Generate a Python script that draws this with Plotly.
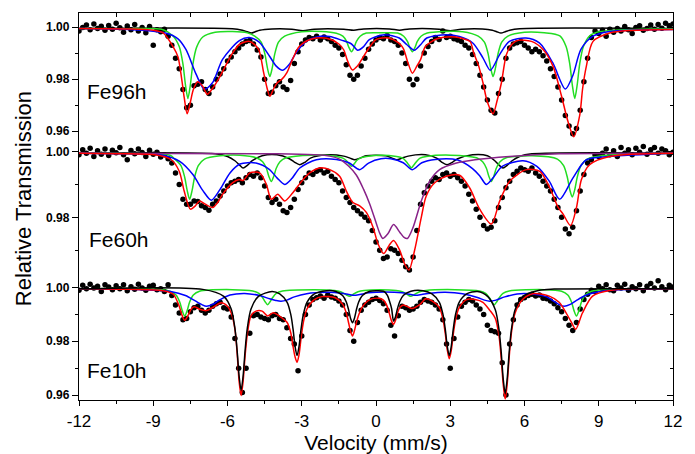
import plotly.graph_objects as go

# ---------------- data ----------------
# channel velocities in mm/s (evenly spaced channels)
velocity = [round(-12 + 0.15 * i, 2) for i in range(161)]

fe96_data = [
    0.9985, 0.9998, 1.0008, 0.9990, 1.0012, 0.9995, 1.0003, 0.9988, 1.0006, 0.9992,
    1.0015, 0.9997, 0.9980, 1.0004, 0.9990, 1.0010, 0.9985, 0.9998, 0.9978, 1.0002,
    0.9930, 0.9990, 0.9982, 0.9992, 0.9965, 0.9930, 0.9880, 0.9840, 0.9760, 0.9690,
    0.9700, 0.9775, 0.9780, 0.9790, 0.9760, 0.9745, 0.9770, 0.9800, 0.9820, 0.9840,
    0.9870, 0.9885, 0.9905, 0.9920, 0.9935, 0.9945, 0.9948, 0.9935, 0.9912, 0.9885,
    0.9800, 0.9745, 0.9750, 0.9775, 0.9790, 0.9770, 0.9760, 0.9795, 0.9860, 0.9905,
    0.9935, 0.9950, 0.9960, 0.9955, 0.9965, 0.9950, 0.9962, 0.9955, 0.9945, 0.9930,
    0.9920, 0.9895, 0.9855, 0.9815, 0.9800, 0.9815, 0.9850, 0.9880, 0.9915, 0.9935,
    0.9950, 0.9960, 0.9955, 0.9968, 0.9950, 0.9945, 0.9930, 0.9900, 0.9860, 0.9800,
    0.9778, 0.9800, 0.9850, 0.9900, 0.9925, 0.9945, 0.9960, 0.9952, 0.9985, 0.9960,
    0.9965, 0.9955, 0.9950, 0.9945, 0.9930, 0.9920, 0.9895, 0.9860, 0.9815, 0.9770,
    0.9720, 0.9680, 0.9670, 0.9745, 0.9800, 0.9880, 0.9920, 0.9935, 0.9940, 0.9945,
    0.9930, 0.9920, 0.9905, 0.9915, 0.9905, 0.9890, 0.9870, 0.9840, 0.9810, 0.9770,
    0.9720, 0.9660, 0.9620, 0.9590, 0.9610, 0.9680, 0.9790, 0.9880, 0.9960, 0.9985,
    0.9975, 0.9988, 0.9965, 0.9992, 0.9980, 0.9995, 0.9985, 1.0002, 0.9990, 0.9975,
    0.9998, 1.0005, 0.9988, 0.9995, 1.0008, 0.9992, 1.0010, 0.9996, 1.0015, 1.0005,
    1.0012,
]

fe60_data = [
    0.9990, 1.0005, 0.9995, 1.0010, 0.9985, 1.0002, 0.9992, 1.0008, 0.9988, 1.0004,
    0.9996, 1.0012, 0.9990, 0.9975, 1.0003, 0.9993, 1.0008, 0.9997, 0.9985, 1.0004,
    0.9992, 0.9998, 0.9983, 0.9990, 0.9978, 0.9965, 0.9935, 0.9900, 0.9855, 0.9840,
    0.9840, 0.9850, 0.9848, 0.9835, 0.9830, 0.9822, 0.9840, 0.9850, 0.9865, 0.9880,
    0.9895, 0.9905, 0.9910, 0.9915, 0.9905, 0.9920, 0.9930, 0.9925, 0.9935, 0.9920,
    0.9895, 0.9860, 0.9845, 0.9855, 0.9840, 0.9820, 0.9815, 0.9830, 0.9855, 0.9885,
    0.9905, 0.9920, 0.9935, 0.9930, 0.9940, 0.9945, 0.9935, 0.9940, 0.9925, 0.9915,
    0.9905, 0.9880, 0.9860, 0.9845, 0.9830, 0.9820, 0.9810, 0.9800, 0.9790, 0.9760,
    0.9725, 0.9700, 0.9675, 0.9680, 0.9705, 0.9700, 0.9690, 0.9670, 0.9650, 0.9640,
    0.9680, 0.9760, 0.9840, 0.9875, 0.9895, 0.9910, 0.9920, 0.9915, 0.9930, 0.9935,
    0.9925, 0.9930, 0.9920, 0.9910, 0.9895, 0.9870, 0.9850, 0.9825, 0.9800, 0.9775,
    0.9765, 0.9770, 0.9790, 0.9830, 0.9860, 0.9890, 0.9910, 0.9930, 0.9940, 0.9950,
    0.9945, 0.9940, 0.9950, 0.9935, 0.9925, 0.9910, 0.9895, 0.9880, 0.9855, 0.9830,
    0.9800, 0.9765, 0.9750, 0.9770, 0.9820, 0.9880, 0.9930, 0.9965, 0.9975, 0.9990,
    0.9985, 0.9995, 1.0008, 0.9990, 1.0002, 0.9985, 1.0012, 0.9995, 1.0005, 0.9990,
    1.0010, 0.9998, 1.0015, 0.9992, 1.0005, 1.0012, 0.9995, 1.0008, 1.0002, 0.9990,
    0.9998,
]

fe10_data = [
    0.9990, 1.0008, 0.9995, 1.0012, 0.9998, 1.0005, 0.9985, 1.0010, 1.0002, 0.9992,
    1.0006, 0.9995, 1.0010, 0.9988, 1.0003, 0.9993, 1.0012, 0.9998, 0.9990, 1.0005,
    1.0008, 0.9992, 0.9995, 0.9985, 1.0010, 0.9970, 0.9935, 0.9905, 0.9880, 0.9885,
    0.9910, 0.9925, 0.9930, 0.9915, 0.9905, 0.9915, 0.9930, 0.9940, 0.9945, 0.9925,
    0.9920, 0.9890, 0.9810, 0.9700, 0.9610, 0.9700, 0.9830, 0.9895, 0.9900, 0.9890,
    0.9885, 0.9880, 0.9895, 0.9900, 0.9885, 0.9880, 0.9850, 0.9810, 0.9790, 0.9690,
    0.9820, 0.9900, 0.9935, 0.9955, 0.9962, 0.9968, 0.9960, 0.9972, 0.9965, 0.9960,
    0.9950, 0.9935, 0.9900, 0.9840, 0.9800, 0.9870, 0.9915, 0.9935, 0.9945, 0.9955,
    0.9960, 0.9952, 0.9940, 0.9915, 0.9860, 0.9820, 0.9895, 0.9930, 0.9925, 0.9915,
    0.9920, 0.9930, 0.9945, 0.9955, 0.9950, 0.9945, 0.9935, 0.9920, 0.9880, 0.9790,
    0.9700, 0.9810, 0.9890, 0.9930, 0.9945, 0.9955, 0.9950, 0.9935, 0.9920, 0.9900,
    0.9860, 0.9840, 0.9835, 0.9830, 0.9720, 0.9600, 0.9790, 0.9880, 0.9935, 0.9955,
    0.9962, 0.9970, 0.9975, 0.9968, 0.9972, 0.9960, 0.9958, 0.9950, 0.9940, 0.9925,
    0.9910, 0.9885, 0.9860, 0.9840, 0.9870, 0.9920, 0.9955, 0.9975, 0.9990, 0.9985,
    1.0005, 0.9995, 1.0010, 0.9992, 0.9988, 1.0008, 0.9998, 1.0012, 0.9990, 1.0003,
    0.9995, 1.0010, 0.9988, 1.0005, 1.0015, 0.9998, 1.0025, 1.0003, 0.9992, 1.0008,
    1.0002,
]

# fitted sub-spectra, read as (velocity, transmission) nodes
fe96_green = [
    (-12, .9995), (-10, .9994), (-8.6, .9990), (-8.2, .9966), (-7.95, .9925), (-7.8, .9858),
    (-7.7, .9779), (-7.6, .9726), (-7.5, .9779), (-7.4, .9857), (-7.25, .9922), (-7.0, .9962),
    (-6.5, .9980), (-5.8, .9983), (-5.2, .9978), (-4.9, .9965), (-4.64, .9942), (-4.49, .9897),
    (-4.39, .9844), (-4.29, .9810), (-4.19, .9844), (-4.09, .9897), (-3.94, .9942), (-3.69, .9965),
    (-3.0, .9982), (-2.2, .9983), (-1.6, .9976), (-1.34, .9965), (-1.19, .9945), (-1.09, .9921),
    (-0.99, .9905), (-0.89, .9921), (-0.79, .9945), (-0.64, .9965), (-0.39, .9977), (0.24, .9978),
    (0.87, .9977), (1.12, .9965), (1.27, .9945), (1.37, .9921), (1.47, .9905), (1.57, .9921),
    (1.67, .9945), (1.82, .9965), (2.07, .9977), (2.8, .9983), (3.5, .9982), (4.13, .9965),
    (4.38, .9942), (4.53, .9897), (4.63, .9844), (4.73, .9810), (4.83, .9844), (4.93, .9897),
    (5.08, .9942), (5.33, .9965), (6.0, .9980), (6.8, .9978), (7.43, .9966), (7.68, .9925),
    (7.83, .9858), (7.93, .9779), (8.03, .9726), (8.13, .9779), (8.23, .9858), (8.38, .9925),
    (8.63, .9966), (9.0, .9982), (10, .9990), (12, .9994),
]
fe96_blue = [
    (-12, .9995), (-10, .9991), (-8.5, .9977), (-8.0, .9955), (-7.68, .9914), (-7.27, .9819),
    (-6.94, .9762), (-6.6, .9787), (-6.2, .9876), (-5.52, .9948), (-5.12, .9960), (-4.72, .9942),
    (-4.3, .9888), (-4.03, .9850), (-3.77, .9834), (-3.5, .9857), (-3.23, .9901), (-2.82, .9945),
    (-2.4, .9962), (-1.87, .9964), (-1.4, .9950), (-0.99, .9935), (-0.74, .9911), (-0.5, .9925),
    (-0.27, .9952), (0.34, .9971), (0.94, .9958), (1.25, .9932), (1.55, .9911), (1.8, .9932),
    (2.05, .9958), (2.83, .9971), (3.37, .9964), (3.91, .9939), (4.32, .9882), (4.62, .9834),
    (5.0, .9895), (5.39, .9945), (6.06, .9958), (6.6, .9939), (7.14, .9863), (7.65, .9762),
    (7.95, .9813), (8.28, .9914), (8.75, .9964), (9.43, .9983), (12, .9991),
]
fe96_black = [
    (-12, .9995), (-5.8, .9994), (-5.4, .9988), (-5.2, .9982), (-5.04, .9977), (-4.88, .9982),
    (-4.7, .9988), (-4.2, .9993), (-3.4, .9992), (-2.95, .9986), (-2.5, .9992), (-1.3, .9992),
    (-0.9, .9988), (-0.5, .9993), (0.55, .9993), (0.95, .9988), (1.35, .9993), (2.55, .9992),
    (3.0, .9986), (3.45, .9992), (4.3, .9993), (4.7, .9988), (4.88, .9982), (5.05, .9977),
    (5.22, .9982), (5.4, .9988), (5.8, .9994), (12, .9995),
]
fe96_red = [
    (-12, .9995), (-10, .9993), (-9, .9988), (-8.6, .9978), (-8.2, .9925), (-8.0, .9885),
    (-7.85, .9800), (-7.75, .9730), (-7.63, .9667), (-7.5, .9712), (-7.38, .9760), (-7.2, .9790),
    (-7.0, .9772), (-6.82, .9742), (-6.6, .9765), (-6.33, .9806), (-6.0, .9865), (-5.79, .9901),
    (-5.5, .9935), (-5.1, .9945), (-4.75, .9915), (-4.55, .9830), (-4.4, .9765), (-4.29, .9734),
    (-4.15, .9760), (-4.0, .9785), (-3.8, .9800), (-3.6, .9825), (-3.4, .9870), (-3.1, .9925),
    (-2.6, .9954), (-2.0, .9957), (-1.5, .9935), (-1.3, .9912), (-1.15, .9870), (-0.95, .9835),
    (-0.75, .9850), (-0.55, .9880), (-0.35, .9910), (0.0, .9952), (0.5, .9958), (0.9, .9940),
    (1.1, .9918), (1.3, .9860), (1.47, .9823), (1.65, .9850), (1.8, .9875), (2.0, .9926),
    (2.5, .9956), (3.2, .9962), (3.5, .9956), (3.8, .9945), (3.95, .9900), (4.15, .9850),
    (4.32, .9787), (4.5, .9712), (4.73, .9667), (4.9, .9720), (5.07, .9787), (5.27, .9895),
    (5.5, .9935), (5.74, .9949), (6.28, .9945), (6.75, .9914), (7.15, .9850), (7.49, .9737),
    (7.76, .9636), (7.99, .9579), (8.23, .9661), (8.35, .9765), (8.5, .9850), (8.77, .9945),
    (9.44, .9977), (10.3, .9987), (12, .9991),
]

fe60_green = [
    (-12, .9995), (-9, .9993), (-8.3, .9988), (-8.13, .9977), (-7.88, .9957), (-7.73, .9922),
    (-7.63, .9882), (-7.53, .9855), (-7.43, .9882), (-7.33, .9922), (-7.18, .9957), (-6.93, .9977),
    (-6.3, .9987), (-5.5, .9989), (-4.83, .9981), (-4.58, .9969), (-4.43, .9949), (-4.33, .9925),
    (-4.23, .9909), (-4.13, .9925), (-4.03, .9949), (-3.88, .9969), (-3.63, .9981), (-2.6, .9989),
    (-1.59, .9985), (-1.34, .9980), (-1.19, .9972), (-1.09, .9962), (-0.99, .9955), (-0.89, .9962),
    (-0.79, .9972), (-0.64, .9980), (-0.39, .9985), (0.22, .9989), (0.83, .9985), (1.08, .9980),
    (1.23, .9969), (1.33, .9959), (1.43, .9951), (1.53, .9959), (1.63, .9969), (1.78, .9980),
    (2.03, .9985), (3.0, .9989), (4.06, .9981), (4.31, .9969), (4.46, .9949), (4.56, .9925),
    (4.66, .9909), (4.76, .9925), (4.86, .9949), (5.01, .9969), (5.26, .9981), (6.3, .9987),
    (7.33, .9977), (7.58, .9957), (7.73, .9922), (7.83, .9884), (7.93, .9862), (8.03, .9884),
    (8.13, .9922), (8.28, .9957), (8.53, .9977), (9.2, .9988), (10, .9992), (12, .9995),
]
fe60_blue = [
    (-12, .9995), (-10, .9993), (-8.6, .9989), (-7.93, .9970), (-7.4, .9930), (-7.0, .9882),
    (-6.65, .9852), (-6.3, .9885), (-5.9, .9935), (-5.5, .9962), (-4.85, .9965), (-4.3, .9945),
    (-4.0, .9920), (-3.69, .9900), (-3.4, .9918), (-3.08, .9950), (-2.41, .9975), (-1.6, .9976),
    (-1.1, .9966), (-0.66, .9945), (-0.3, .9965), (0.2, .9978), (0.6, .9978), (1.1, .9966),
    (1.47, .9945), (1.85, .9966), (2.4, .9976), (3.3, .9974), (3.9, .9948), (4.2, .9925),
    (4.46, .9900), (4.75, .9922), (5.1, .9955), (5.94, .9972), (6.5, .9955), (7.0, .9910),
    (7.42, .9855), (7.96, .9920), (8.5, .9975), (9.4, .9985), (12, .9995),
]
fe60_purple = [
    (-12, .9995), (-4, .9993), (-2.5, .9990), (-1.87, .9986), (-1.47, .9977), (-1.1, .9955),
    (-0.79, .9928), (-0.5, .9885), (-0.25, .9840), (0.02, .9780), (0.15, .9752), (0.28, .9736),
    (0.48, .9750), (0.71, .9778), (0.96, .9755), (1.12, .9740), (1.27, .9736), (1.5, .9770),
    (1.83, .9850), (2.17, .9910), (2.57, .9945), (3.25, .9965), (4.0, .9975), (5.4, .9985),
    (7.4, .9993), (12, .9995),
]
fe60_black = [
    (-12, .9995), (-6.5, .9993), (-6.0, .9985), (-5.7, .9972), (-5.5, .9958), (-5.37, .9950),
    (-5.2, .9958), (-5.0, .9972), (-4.6, .9987), (-4.0, .9990), (-3.5, .9978), (-3.3, .9968),
    (-3.08, .9960), (-2.86, .9968), (-2.65, .9980), (-2.0, .9990), (-1.3, .9986), (-1.05, .9980),
    (-0.86, .9975), (-0.65, .9980), (-0.4, .9987), (0.4, .9987), (0.65, .9980), (0.84, .9975),
    (1.05, .9980), (1.3, .9986), (2.0, .9990), (2.45, .9980), (2.65, .9968), (2.87, .9960),
    (3.1, .9968), (3.3, .9978), (3.9, .9990), (4.5, .9987), (4.8, .9972), (4.98, .9958),
    (5.13, .9950), (5.3, .9958), (5.5, .9972), (5.8, .9985), (6.3, .9993), (12, .9995),
]
fe60_red = [
    (-12, .9995), (-10, .9993), (-8.94, .9990), (-8.27, .9975), (-7.95, .9940), (-7.75, .9880),
    (-7.5, .9825), (-7.3, .9835), (-7.13, .9850), (-6.9, .9840), (-6.6, .9830), (-6.4, .9845),
    (-6.2, .9870), (-5.8, .9905), (-5.53, .9915), (-5.37, .9912), (-5.1, .9935), (-4.7, .9935),
    (-4.43, .9900), (-4.23, .9855), (-3.97, .9870), (-3.69, .9850), (-3.36, .9875), (-3.0, .9910),
    (-2.68, .9935), (-2.27, .9950), (-1.87, .9945), (-1.47, .9925), (-1.2, .9880), (-0.93, .9845),
    (-0.66, .9835), (-0.39, .9815), (-0.12, .9770), (0.08, .9720), (0.31, .9690), (0.53, .9715),
    (0.71, .9730), (0.96, .9700), (1.15, .9660), (1.33, .9640), (1.56, .9700), (1.83, .9800),
    (2.03, .9865), (2.37, .9905), (2.84, .9925), (3.38, .9928), (3.78, .9890), (4.19, .9825),
    (4.66, .9780), (5.0, .9850), (5.4, .9910), (6.08, .9945), (6.62, .9940), (7.02, .9890),
    (7.36, .9830), (7.56, .9810), (7.86, .9775), (8.1, .9830), (8.3, .9915), (8.63, .9960),
    (9.44, .9985), (12, .9995),
]

fe10_green = [
    (-12, .9995), (-9, .9994), (-8.33, .9986), (-8.08, .9972), (-7.93, .9946), (-7.83, .9914),
    (-7.73, .9894), (-7.63, .9914), (-7.53, .9946), (-7.38, .9972), (-7.13, .9986), (-5.8, .9992),
    (-4.98, .9987), (-4.73, .9978), (-4.58, .9962), (-4.48, .9947), (-4.38, .9936), (-4.28, .9947),
    (-4.18, .9962), (-4.03, .9978), (-3.78, .9987), (-2.5, .9992), (-1.68, .9989), (-1.43, .9984),
    (-1.28, .9977), (-1.18, .9971), (-1.08, .9967), (-0.98, .9971), (-0.88, .9977), (-0.73, .9984),
    (-0.48, .9989), (0.17, .9992), (0.81, .9989), (1.06, .9984), (1.21, .9977), (1.31, .9971),
    (1.41, .9967), (1.51, .9971), (1.61, .9977), (1.76, .9984), (2.01, .9989), (3.2, .9992),
    (4.18, .9987), (4.43, .9978), (4.58, .9962), (4.68, .9947), (4.78, .9936), (4.88, .9947),
    (4.98, .9962), (5.13, .9978), (5.38, .9987), (6.8, .9992), (7.5, .9986), (7.75, .9972),
    (7.9, .9946), (8.0, .9914), (8.1, .9894), (8.2, .9914), (8.3, .9946), (8.45, .9972),
    (8.7, .9986), (9.5, .9993), (12, .9995),
]
fe10_blue = [
    (-12, .9995), (-9.5, .9992), (-8.3, .9985), (-7.7, .9970), (-7.3, .9950), (-7.05, .9937),
    (-6.85, .9930), (-6.6, .9937), (-6.35, .9952), (-5.9, .9972), (-5.3, .9978), (-4.7, .9970),
    (-4.3, .9958), (-4.05, .9952), (-3.84, .9949), (-3.6, .9953), (-3.3, .9965), (-2.8, .9977),
    (-2.0, .9982), (-1.4, .9979), (-1.1, .9974), (-0.88, .9971), (-0.65, .9974), (-0.3, .9980),
    (0.37, .9983), (1.05, .9980), (1.4, .9974), (1.62, .9971), (1.85, .9974), (2.2, .9979),
    (2.8, .9982), (3.5, .9977), (4.1, .9963), (4.38, .9953), (4.6, .9949), (4.85, .9953),
    (5.2, .9965), (5.7, .9976), (6.4, .9975), (6.9, .9965), (7.2, .9948), (7.4, .9936),
    (7.6, .9930), (7.85, .9937), (8.1, .9952), (8.5, .9972), (9.2, .9987), (12, .9995),
]
fe10_black = [
    (-12, .9995), (-7, .9993), (-6.15, .9967), (-5.85, .9920), (-5.7, .9848), (-5.61, .9765),
    (-5.53, .9670), (-5.45, .9618), (-5.37, .9670), (-5.29, .9765), (-5.2, .9848), (-5.05, .9920),
    (-4.75, .9967), (-4.2, .9985), (-3.89, .9976), (-3.59, .9945), (-3.44, .9898), (-3.35, .9844),
    (-3.27, .9781), (-3.19, .9747), (-3.11, .9781), (-3.03, .9844), (-2.94, .9898), (-2.79, .9945),
    (-2.49, .9976), (-2.0, .9988), (-1.65, .9986), (-1.35, .9970), (-1.2, .9946), (-1.11, .9918),
    (-1.03, .9886), (-0.95, .9869), (-0.87, .9886), (-0.79, .9918), (-0.7, .9946), (-0.55, .9970),
    (-0.25, .9986), (0.01, .9988), (0.31, .9986), (0.46, .9971), (0.55, .9948), (0.63, .9922),
    (0.71, .9875), (0.79, .9892), (0.87, .9922), (0.96, .9948), (1.11, .9971), (1.41, .9986),
    (1.9, .9988), (2.26, .9976), (2.56, .9945), (2.71, .9898), (2.8, .9844), (2.88, .9781),
    (2.96, .9747), (3.04, .9781), (3.12, .9844), (3.21, .9898), (3.36, .9945), (3.66, .9976),
    (4.1, .9985), (4.52, .9966), (4.82, .9917), (4.97, .9843), (5.06, .9758), (5.14, .9660),
    (5.22, .9606), (5.3, .9660), (5.38, .9758), (5.47, .9843), (5.62, .9917), (5.92, .9966),
    (6.6, .9990), (7.2, .9994), (12, .9995),
]
fe10_red = [
    (-12, .9995), (-10, .9993), (-8.6, .9988), (-8.19, .9975), (-7.95, .9930), (-7.85, .9900),
    (-7.73, .9878), (-7.6, .9895), (-7.45, .9922), (-7.33, .9928), (-7.1, .9918), (-6.85, .9914),
    (-6.6, .9925), (-6.25, .9943), (-6.0, .9930), (-5.85, .9905), (-5.7, .9845), (-5.61, .9755),
    (-5.53, .9650), (-5.45, .9598), (-5.37, .9650), (-5.29, .9745), (-5.2, .9825), (-5.05, .9895),
    (-4.85, .9912), (-4.6, .9912), (-4.38, .9894), (-4.15, .9906), (-3.89, .9893), (-3.59, .9870),
    (-3.44, .9830), (-3.35, .9780), (-3.27, .9742), (-3.19, .9722), (-3.11, .9750), (-3.03, .9810),
    (-2.94, .9868), (-2.79, .9920), (-2.49, .9955), (-2.18, .9966), (-1.65, .9962), (-1.35, .9938),
    (-1.2, .9905), (-1.11, .9870), (-1.03, .9838), (-0.95, .9820), (-0.87, .9840), (-0.79, .9870),
    (-0.7, .9898), (-0.55, .9928), (-0.25, .9955), (0.13, .9960), (0.31, .9952), (0.46, .9928),
    (0.55, .9900), (0.63, .9875), (0.71, .9863), (0.79, .9878), (0.87, .9905), (0.96, .9925),
    (1.11, .9935), (1.45, .9922), (1.75, .9935), (2.01, .9958), (2.26, .9950), (2.56, .9925),
    (2.71, .9880), (2.8, .9828), (2.88, .9768), (2.96, .9735), (3.04, .9765), (3.12, .9825),
    (3.21, .9878), (3.36, .9925), (3.66, .9955), (4.0, .9955), (4.32, .9945), (4.6, .9915),
    (4.82, .9885), (4.97, .9820), (5.06, .9735), (5.14, .9640), (5.22, .9585), (5.3, .9640),
    (5.38, .9740), (5.47, .9830), (5.62, .9905), (5.92, .9955), (6.33, .9977), (7.0, .9968),
    (7.4, .9945), (7.87, .9875), (8.07, .9845), (8.34, .9905), (8.75, .9968), (9.5, .9990),
    (12, .9995),
]

panel_labels = ["Fe96h", "Fe60h", "Fe10h"]
x_ticks = [-12, -9, -6, -3, 0, 3, 6, 9, 12]
y_ticks = [0.96, 0.98, 1.00]

# ---------------- figure ----------------
FONT = "Liberation Sans, Arial, sans-serif"
COLORS = {"red": "#ff0000", "green": "#22dd22", "blue": "#0000ff",
          "black": "#000000", "purple": "#882288"}


def xy(nodes):
    return [p[0] for p in nodes], [p[1] for p in nodes]


panels = [
    ("y", fe96_data, [("black", fe96_black), ("green", fe96_green),
                      ("blue", fe96_blue), ("red", fe96_red)]),
    ("y2", fe60_data, [("black", fe60_black), ("green", fe60_green),
                       ("blue", fe60_blue), ("purple", fe60_purple), ("red", fe60_red)]),
    ("y3", fe10_data, [("green", fe10_green), ("blue", fe10_blue),
                       ("red", fe10_red), ("black", fe10_black)]),
]

fig = go.Figure()
for yax, data, curves in panels:
    fig.add_trace(go.Scatter(
        x=velocity, y=data, mode="markers", xaxis="x", yaxis=yax,
        marker=dict(color="black", size=5.5), showlegend=False, hoverinfo="skip"))
    for col, nodes in curves:
        xs, ys = xy(nodes)
        fig.add_trace(go.Scatter(
            x=xs, y=ys, mode="lines", xaxis="x", yaxis=yax,
            line=dict(color=COLORS[col], width=1.5, shape="spline", smoothing=0.8),
            showlegend=False, hoverinfo="skip"))

# helper traces so that the mirror axes are drawn
fig.add_trace(go.Scatter(x=[None], y=[None], xaxis="x2", yaxis="y", showlegend=False))
for ax in ["y4", "y5", "y6"]:
    fig.add_trace(go.Scatter(x=[None], y=[None], xaxis="x", yaxis=ax, showlegend=False))

ranges = [[0.95647, 1.0058], [0.96201, 1.00339], [0.95817, 1.00404]]
domains = [[0.6692, 1.0], [0.318, 0.6692], [0.0, 0.318]]


def left_axis(i):
    return dict(
        domain=domains[i], range=ranges[i], anchor="x", showline=True,
        linecolor="black", linewidth=1.3, ticks="outside", ticklen=6, tickwidth=1.2,
        tickcolor="black", tickmode="array", tickvals=y_ticks,
        ticktext=[f"{v:.2f}" for v in y_ticks],
        tickfont=dict(family=FONT, size=12, color="black", weight="bold"),
        minor=dict(dtick=0.01, tick0=0, ticks="outside", ticklen=3, tickcolor="black"),
        showgrid=False, zeroline=False)


def right_axis(i, over):
    return dict(
        overlaying=over, side="right", anchor="x", range=ranges[i], showline=True,
        linecolor="black", linewidth=1.3, ticks="inside", ticklen=6, tickwidth=1.2,
        tickcolor="black", tickmode="array", tickvals=y_ticks, showticklabels=False,
        minor=dict(dtick=0.01, tick0=0, ticks="inside", ticklen=3, tickcolor="black"),
        showgrid=False, zeroline=False)


# the page body adds an 8 px offset, so the figure is 8 px smaller than the window
fig.update_layout(
    width=687, height=446,
    margin=dict(l=71, r=22, t=4, b=49),
    paper_bgcolor="white", plot_bgcolor="white",
    font=dict(family=FONT, color="black"),
    xaxis=dict(
        domain=[0, 1], range=[-12, 12], anchor="y3", showline=True, linecolor="black",
        linewidth=1.3, ticks="outside", ticklen=5, tickwidth=1.2, tickcolor="black",
        tickmode="array", tickvals=x_ticks, ticktext=[str(v) for v in x_ticks],
        tickfont=dict(family=FONT, size=17, color="black"),
        minor=dict(dtick=1.5, tick0=0, ticks="outside", ticklen=3, tickcolor="black"),
        showgrid=False, zeroline=False,
        title=dict(text="Velocity (mm/s)", font=dict(family=FONT, size=21), standoff=5)),
    xaxis2=dict(
        overlaying="x", side="top", anchor="free", position=1, range=[-12, 12],
        showline=True, linecolor="black", linewidth=1.3, ticks="inside", ticklen=4,
        tickcolor="black", tickmode="linear", tick0=0, dtick=1.5,
        showticklabels=False, showgrid=False, zeroline=False),
    yaxis=left_axis(0), yaxis2=left_axis(1), yaxis3=left_axis(2),
    yaxis4=right_axis(0, "y"), yaxis5=right_axis(1, "y2"), yaxis6=right_axis(2, "y3"),
)

label_pos = [(0.0648, 0.795), (0.0673, 0.4135), (0.0648, 0.0763)]
for text, (lx, ly) in zip(panel_labels, label_pos):
    fig.add_annotation(text=text, xref="paper", yref="paper", x=lx, y=ly,
                       xanchor="center", yanchor="middle", showarrow=False,
                       font=dict(family=FONT, size=21, color="black"))

fig.add_annotation(text="Relative Transmission", xref="paper", yref="paper",
                   x=-0.094, y=0.518, textangle=-90, xanchor="center", yanchor="middle",
                   showarrow=False, font=dict(family=FONT, size=22, color="black"))

fig.write_html("out.html")
